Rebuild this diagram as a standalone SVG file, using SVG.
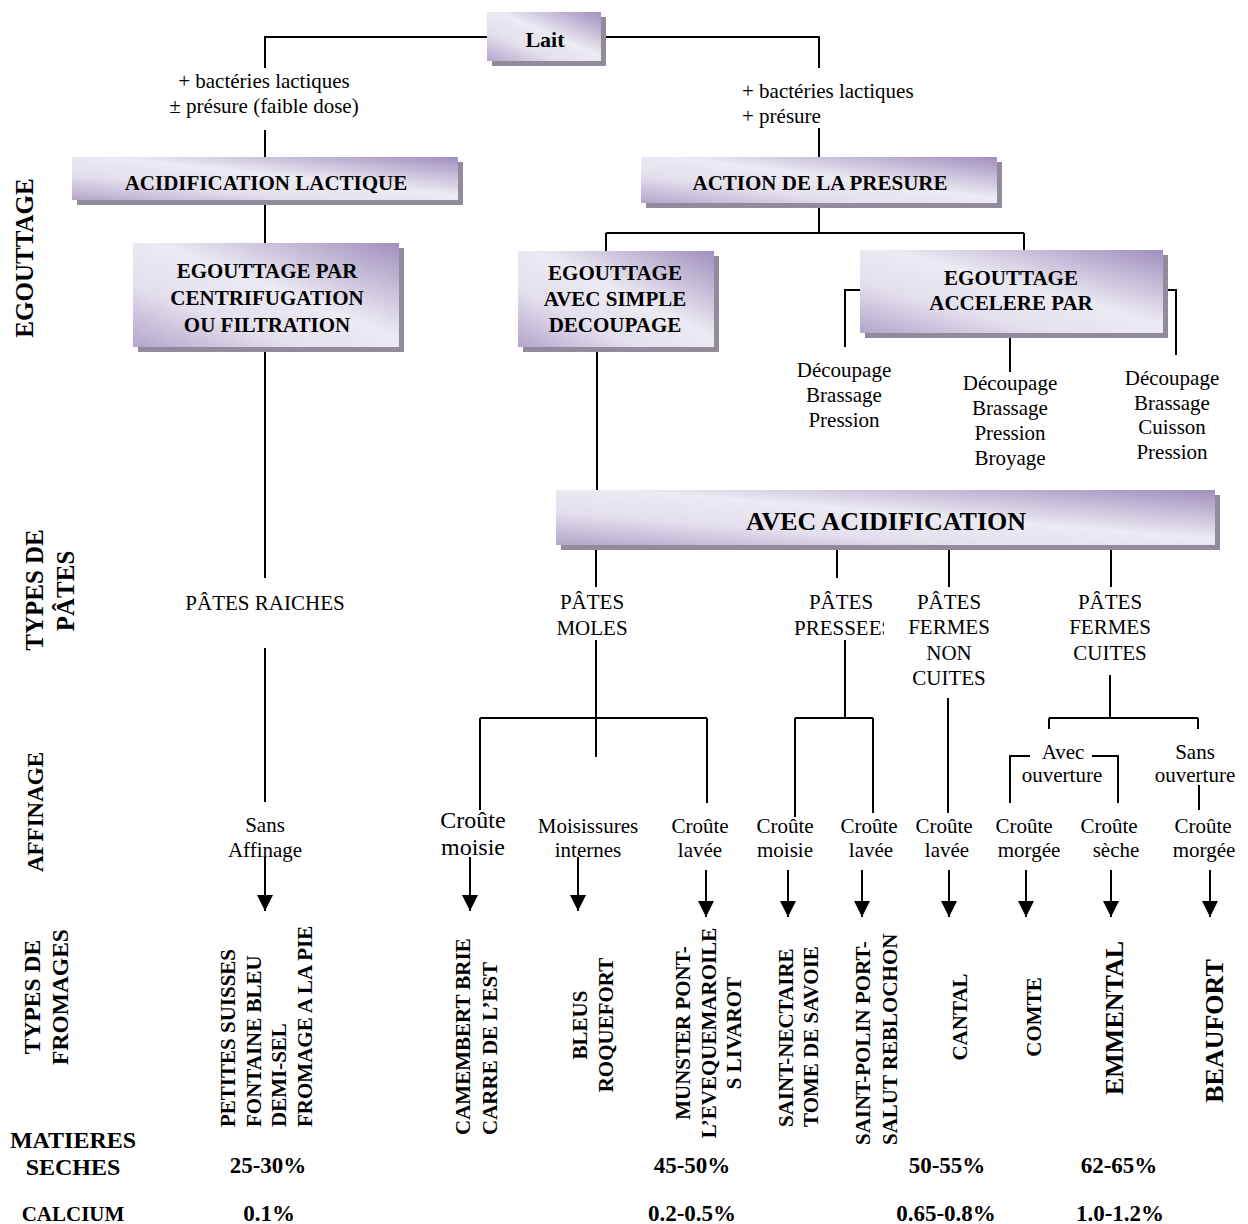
<svg xmlns="http://www.w3.org/2000/svg" width="1248" height="1224" viewBox="0 0 1248 1224">
<defs>
<linearGradient id="g" x1="0" y1="1" x2="1" y2="0">
<stop offset="0" stop-color="#b3a5ca"/>
<stop offset="0.3" stop-color="#e4dfed"/>
<stop offset="0.55" stop-color="#eceaf2"/>
<stop offset="1" stop-color="#a18fbe"/>
</linearGradient>
<marker id="ah" markerUnits="userSpaceOnUse" markerWidth="16" markerHeight="16" refX="16" refY="8" orient="auto">
<path d="M0,0 L16,8 L0,16 z" fill="#000"/>
</marker>
<clipPath id="clipP"><rect x="780" y="580" width="104" height="70"/></clipPath>
</defs>
<style>
text{font-family:"Liberation Serif","Times New Roman",serif;fill:#000}
.t{font-size:21px;text-anchor:middle}
.ts{font-size:21px;text-anchor:start}
.b{font-size:21px;font-weight:bold;text-anchor:middle}
.big{font-size:26px;font-weight:bold;text-anchor:middle}
.lab{font-size:25px;font-weight:bold;text-anchor:middle}
.v{font-size:23px;font-weight:bold;text-anchor:middle}
.c{font-size:21px;font-weight:bold}
.cs{text-anchor:start}
.cm{text-anchor:middle}
.box{fill:url(#g)}
.sh{fill:#918b9b}
.ln{fill:none;stroke:#000;stroke-width:2}
.ar{fill:none;stroke:#000;stroke-width:2;marker-end:url(#ah)}
</style>
<rect width="1248" height="1224" fill="#fff"/>

<g id="connectors">
<path class="ln" d="M487,37 H265 V68 M265,130 V157"/>
<path class="ln" d="M601,37 H819 V68 M819,128 V157"/>
<path class="ln" d="M265,200 V243"/>
<path class="ln" d="M265,347 V578 M265,648 V802 M265,860 V862"/>
<path class="ln" d="M819,203 V233 M606,233 H1024 M606,233 V251 M1024,233 V250"/>
<path class="ln" d="M860,290 H845 V347 M1163,290 H1176 V355 M1010,333 V372"/>
<path class="ln" d="M597,347 V490"/>
<path class="ln" d="M596,545 V587 M837,545 V578 M949,545 V587 M1111,545 V587"/>
<path class="ln" d="M596,640 V757 M480,718 H707 M480,718 V810 M707,718 V803"/>
<path class="ln" d="M845,640 V718 M795,718 H873 M795,718 V817 M873,718 V813"/>
<path class="ln" d="M948,698 V813"/>
<path class="ln" d="M1110,675 V718 M1049,718 H1198 M1049,718 V729 M1198,718 V729"/>
<path class="ln" d="M1030,756 H1010 V803 M1092,756 H1118 V803 M1199,785 V810"/>
<path class="ar" d="M265,857 V911"/>
<path class="ar" d="M470,857 V911"/>
<path class="ar" d="M578,857 V911"/>
<path class="ar" d="M706,870 V917"/>
<path class="ar" d="M788,870 V917"/>
<path class="ar" d="M862,870 V917"/>
<path class="ar" d="M949,870 V917"/>
<path class="ar" d="M1026,870 V917"/>
<path class="ar" d="M1111,870 V917"/>
<path class="ar" d="M1210,870 V917"/>
</g>

<g id="lait">
<rect class="sh" x="492" y="17" width="114" height="49"/>
<rect class="box" x="487" y="12" width="114" height="49"/>
<text class="b" x="545" y="47" style="font-size:22px">Lait</text>
</g>

<g id="label-left">
<text class="t" x="264" y="88">+ bactéries lactiques</text>
<text class="t" x="264" y="113">± présure (faible dose)</text>
</g>
<g id="label-right">
<text class="ts" x="742" y="98">+ bactéries lactiques</text>
<text class="ts" x="742" y="123">+ présure</text>
</g>

<g id="acidification-lactique">
<rect class="sh" x="77" y="162" width="386" height="43"/>
<rect class="box" x="72" y="157" width="386" height="43"/>
<text class="b" x="266" y="190">ACIDIFICATION LACTIQUE</text>
</g>

<g id="action-presure">
<rect class="sh" x="646" y="162" width="356" height="46"/>
<rect class="box" x="641" y="157" width="356" height="46"/>
<text class="b" x="820" y="190">ACTION DE LA PRESURE</text>
</g>

<g id="egouttage-centrifugation">
<rect class="sh" x="138" y="248" width="266" height="104"/>
<rect class="box" x="133" y="243" width="266" height="104"/>
<text class="b" x="267" y="278">EGOUTTAGE PAR</text>
<text class="b" x="267" y="305">CENTRIFUGATION</text>
<text class="b" x="267" y="332">OU FILTRATION</text>
</g>

<g id="egouttage-simple">
<rect class="sh" x="523" y="256" width="196" height="96"/>
<rect class="box" x="518" y="251" width="196" height="96"/>
<text class="b" x="615" y="280">EGOUTTAGE</text>
<text class="b" x="615" y="306">AVEC SIMPLE</text>
<text class="b" x="615" y="332">DECOUPAGE</text>
</g>

<g id="egouttage-accelere">
<rect class="sh" x="865" y="255" width="303" height="83"/>
<rect class="box" x="860" y="250" width="303" height="83"/>
<text class="b" x="1011" y="285">EGOUTTAGE</text>
<text class="b" x="1011" y="310">ACCELERE PAR</text>
</g>

<g id="methode-1">
<text class="t" x="844" y="377">Découpage</text>
<text class="t" x="844" y="402">Brassage</text>
<text class="t" x="844" y="427">Pression</text>
</g>
<g id="methode-2">
<text class="t" x="1010" y="390">Découpage</text>
<text class="t" x="1010" y="415">Brassage</text>
<text class="t" x="1010" y="440">Pression</text>
<text class="t" x="1010" y="465">Broyage</text>
</g>
<g id="methode-3">
<text class="t" x="1172" y="385">Découpage</text>
<text class="t" x="1172" y="410">Brassage</text>
<text class="t" x="1172" y="434">Cuisson</text>
<text class="t" x="1172" y="459">Pression</text>
</g>

<g id="avec-acidification">
<rect class="sh" x="561" y="495" width="659" height="55"/>
<rect class="box" x="556" y="490" width="659" height="55"/>
<text class="big" x="886" y="530">AVEC ACIDIFICATION</text>
</g>

<g id="pates-raiches"><text class="t" x="265" y="610">PÂTES RAICHES</text></g>
<g id="pates-moles">
<text class="t" x="592" y="609">PÂTES</text>
<text class="t" x="592" y="635">MOLES</text>
</g>
<g id="pates-pressees">
<text class="t" x="841" y="609">PÂTES</text>
<text class="ts" x="794" y="635" clip-path="url(#clipP)">PRESSEES</text>
</g>
<g id="pates-fermes-non-cuites">
<text class="t" x="949" y="609">PÂTES</text>
<text class="t" x="949" y="634">FERMES</text>
<text class="t" x="949" y="660">NON</text>
<text class="t" x="949" y="685">CUITES</text>
</g>
<g id="pates-fermes-cuites">
<text class="t" x="1110" y="609">PÂTES</text>
<text class="t" x="1110" y="634">FERMES</text>
<text class="t" x="1110" y="660">CUITES</text>
</g>

<g id="avec-ouverture">
<text class="t" x="1063" y="759">Avec</text>
<text class="t" x="1062" y="782">ouverture</text>
</g>
<g id="sans-ouverture">
<text class="t" x="1195" y="759">Sans</text>
<text class="t" x="1195" y="782">ouverture</text>
</g>

<g id="affinage">
<text class="t" x="265" y="832">Sans</text>
<text class="t" x="265" y="857">Affinage</text>
<text class="t" x="473" y="828" style="font-size:24px">Croûte</text>
<text class="t" x="473" y="855" style="font-size:24px">moisie</text>
<text class="t" x="588" y="833">Moisissures</text>
<text class="t" x="588" y="857">internes</text>
<text class="t" x="700" y="833">Croûte</text>
<text class="t" x="700" y="857">lavée</text>
<text class="t" x="785" y="833">Croûte</text>
<text class="t" x="785" y="857">moisie</text>
<text class="t" x="869" y="833">Croûte</text>
<text class="t" x="871" y="857">lavée</text>
<text class="t" x="944" y="833">Croûte</text>
<text class="t" x="947" y="857">lavée</text>
<text class="t" x="1024" y="833">Croûte</text>
<text class="t" x="1029" y="857">morgée</text>
<text class="t" x="1109" y="833">Croûte</text>
<text class="t" x="1116" y="857">sèche</text>
<text class="t" x="1203" y="833">Croûte</text>
<text class="t" x="1204" y="857">morgée</text>
</g>

<g id="fromages-frais" class="c">
<text class="c cs" transform="translate(235,1127) rotate(-90)">PETITES SUISSES</text>
<text class="c cs" transform="translate(261,1127) rotate(-90)">FONTAINE BLEU</text>
<text class="c cs" transform="translate(286,1127) rotate(-90)">DEMI-SEL</text>
<text class="c cs" transform="translate(312,1127) rotate(-90)">FROMAGE A LA PIE</text>
</g>
<g id="fromages-croute-moisie">
<text class="c cs" transform="translate(470,1135) rotate(-90)">CAMEMBERT BRIE</text>
<text class="c cs" transform="translate(497,1135) rotate(-90)">CARRE DE L’EST</text>
</g>
<g id="fromages-bleus">
<text class="c cm" transform="translate(587,1025) rotate(-90)">BLEUS</text>
<text class="c cm" transform="translate(613,1025) rotate(-90)">ROQUEFORT</text>
</g>
<g id="fromages-croute-lavee">
<text class="c cm" transform="translate(690,1033) rotate(-90)">MUNSTER PONT-</text>
<text class="c cm" transform="translate(716,1033) rotate(-90)">L’EVEQUEMAROILE</text>
<text class="c cm" transform="translate(741,1033) rotate(-90)">S LIVAROT</text>
</g>
<g id="fromages-presses-moisie">
<text class="c cs" transform="translate(793,1127) rotate(-90)">SAINT-NECTAIRE</text>
<text class="c cs" transform="translate(818,1127) rotate(-90)">TOME DE SAVOIE</text>
</g>
<g id="fromages-presses-lavee">
<text class="c cs" transform="translate(870,1145) rotate(-90)">SAINT-POLIN PORT-</text>
<text class="c cs" transform="translate(897,1145) rotate(-90)">SALUT REBLOCHON</text>
</g>
<g id="fromage-cantal"><text class="c cm" transform="translate(967,1017) rotate(-90)">CANTAL</text></g>
<g id="fromage-comte"><text class="c cm" transform="translate(1041,1017) rotate(-90)">COMTE</text></g>
<g id="fromage-emmental"><text class="c cm" style="font-size:26px" transform="translate(1123,1018) rotate(-90)">EMMENTAL</text></g>
<g id="fromage-beaufort"><text class="c cm" style="font-size:26px" transform="translate(1223,1031) rotate(-90)">BEAUFORT</text></g>

<g id="row-labels">
<text class="lab" transform="translate(33,258) rotate(-90)">EGOUTTAGE</text>
<text class="lab" transform="translate(43,590) rotate(-90)">TYPES DE</text>
<text class="lab" transform="translate(74,591) rotate(-90)">PÂTES</text>
<text class="lab" style="font-size:23px" transform="translate(43,812) rotate(-90)">AFFINAGE</text>
<text class="lab" style="font-size:23.5px" transform="translate(40,997) rotate(-90)">TYPES DE</text>
<text class="lab" style="font-size:23.5px" transform="translate(68,997) rotate(-90)">FROMAGES</text>
<text class="v" x="73" y="1148" style="font-size:24px">MATIERES</text>
<text class="v" x="73" y="1175" style="font-size:24px">SECHES</text>
<text class="v" x="73" y="1221" style="font-size:21px">CALCIUM</text>
</g>

<g id="values">
<text class="v" x="268" y="1173">25-30%</text>
<text class="v" x="692" y="1173">45-50%</text>
<text class="v" x="947" y="1173">50-55%</text>
<text class="v" x="1119" y="1173">62-65%</text>
<text class="v" x="269" y="1221">0.1%</text>
<text class="v" x="692" y="1221">0.2-0.5%</text>
<text class="v" x="946" y="1221">0.65-0.8%</text>
<text class="v" x="1120" y="1221">1.0-1.2%</text>
</g>
</svg>
